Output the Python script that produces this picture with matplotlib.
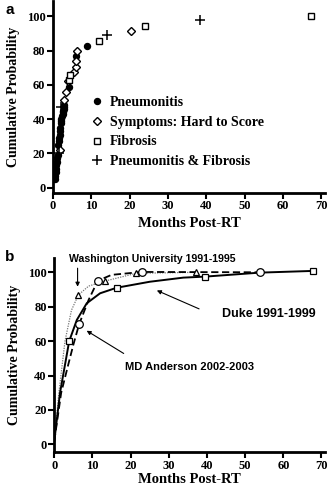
import matplotlib
matplotlib.use('Agg')
import matplotlib.pyplot as plt
from matplotlib.lines import Line2D

SERIF = 'Liberation Serif'
SANS = 'Liberation Sans'

# Panel a: individual toxicity events
pneu_x = [0.5, 0.6, 0.7, 0.8, 0.9, 1.0, 1.1, 1.2, 1.3, 1.5, 1.6, 1.7, 1.8,
          1.9, 2.0, 2.1, 2.2, 2.3, 2.5, 2.6, 2.7, 2.8, 2.9, 3.0, 4.3, 6.1, 8.8]
pneu_y = [5, 7, 9, 11, 13, 15, 17, 19, 25, 27, 29, 31, 33,
          35, 38, 39, 40, 42, 43, 44, 45, 46, 47, 48, 59, 77, 83]
symp_x = [1.7, 2.9, 3.3, 4.0, 5.6, 5.9, 6.1, 6.2, 20.3]
symp_y = [22, 51, 56, 62, 67.5, 70.5, 74, 80, 91.5]
fib_x = [4.3, 4.5, 12.0, 23.9, 67.4]
fib_y = [63, 65.5, 85.7, 94.6, 100]
both_x = [1.5, 2.2, 14.1, 38.3]
both_y = [20, 47, 89, 97.7]

# Panel b: fitted curves
duke_cx = [0, 1.5, 3.9, 5.9, 8.5, 12.0, 16.3, 25.0, 33.8, 39.6, 53.8, 67.8]
duke_cy = [2, 30, 60, 72.3, 82, 87.8, 91, 94.5, 96.9, 97.5, 99.8, 100.8]
duke_mx = [3.9, 16.3, 39.6, 67.8]
duke_my = [60, 91, 97.5, 100.8]

mda_cx = [0, 1.8, 3.5, 5.0, 6.5, 9.0, 11.4, 15.0, 22.9, 53.8]
mda_cy = [2, 30, 45, 58, 69.8, 84, 95.1, 98.5, 100.2, 100]
mda_mx = [6.5, 11.4, 22.9, 53.8]
mda_my = [69.8, 95.1, 100.2, 100]

wu_cx = [0, 1.2, 2.8, 4.5, 6.3, 9.0, 13.3, 21.4, 37.2]
wu_cy = [2, 30, 60, 78, 86.8, 92, 94.9, 99.4, 100]
wu_mx = [6.3, 13.3, 21.4, 37.2]
wu_my = [86.8, 94.9, 99.4, 100]

y_ticks = [0, 20, 40, 60, 80, 100]
x_ticks = [0, 10, 20, 30, 40, 50, 60, 70]


def style_axes(ax, ylim, xpad):
    ax.set_xlim(0, 71)
    ax.set_ylim(*ylim)
    ax.spines['top'].set_visible(False)
    ax.spines['right'].set_visible(False)
    ax.spines['left'].set_linewidth(2)
    ax.spines['bottom'].set_linewidth(2)
    ax.set_xticks(x_ticks)
    ax.set_yticks(y_ticks)
    ax.tick_params(direction='out', length=4, width=1.5, pad=1.5)
    for lab in ax.get_xticklabels() + ax.get_yticklabels():
        lab.set_fontfamily(SERIF)
        lab.set_fontweight('bold')
        lab.set_fontsize(9)
    ax.set_xlabel('Months Post-RT', fontfamily=SERIF, fontweight='bold',
                  fontsize=10.5, labelpad=xpad)
    ax.set_ylabel('Cumulative Probability', fontfamily=SERIF,
                  fontweight='bold', fontsize=10, labelpad=5)


fig = plt.figure(figsize=(3.28, 4.87), dpi=100)
ax1 = fig.add_axes([53 / 328, 1 - 192.7 / 487, 272 / 328, 191.7 / 487])
ax2 = fig.add_axes([54.3 / 328, 1 - 452 / 487, 271 / 328, 194 / 487])

# ---- panel a ----
ax1.plot(pneu_x, pneu_y, 'o', color='black', ms=4.3, ls='none')
ax1.plot(symp_x, symp_y, 'D', mfc='white', mec='black', mew=1, ms=4.5, ls='none')
ax1.plot(fib_x, fib_y, 's', mfc='white', mec='black', mew=1, ms=5, ls='none')
ax1.plot(both_x, both_y, '+', color='black', mew=1.1, ms=7, ls='none')
style_axes(ax1, (-3, 109), 3)

handles = [
    Line2D([], [], marker='o', color='black', ms=4.3, ls='none'),
    Line2D([], [], marker='D', mfc='white', mec='black', mew=1, ms=4.5, ls='none'),
    Line2D([], [], marker='s', mfc='white', mec='black', mew=1, ms=5, ls='none'),
    Line2D([], [], marker='+', color='black', mew=1.1, ms=7, ls='none'),
]
labels = ['Pneumonitis', 'Symptoms: Hard to Score', 'Fibrosis',
          'Pneumonitis & Fibrosis']
ax1.legend(handles, labels, loc='upper left', bbox_to_anchor=(0.11, 0.54),
           frameon=False, handlelength=1.0, handletextpad=0.45,
           labelspacing=0.48, borderpad=0,
           prop={'family': SERIF, 'weight': 'bold', 'size': 10})

# ---- panel b ----
ax2.plot(wu_cx, wu_cy, color='#777777', lw=0.9, ls=(0, (1, 1)))
ax2.plot(mda_cx, mda_cy, color='black', lw=1.3, ls=(0, (4, 2)))
ax2.plot(duke_cx, duke_cy, color='black', lw=1.4)
ax2.plot(wu_mx, wu_my, '^', mfc='white', mec='black', mew=0.9, ms=5, ls='none')
ax2.plot(mda_mx, mda_my, 'o', mfc='white', mec='black', mew=0.9, ms=5.5, ls='none')
ax2.plot(duke_mx, duke_my, 's', mfc='white', mec='black', mew=0.9, ms=4.5, ls='none')
style_axes(ax2, (-4.4, 108.3), 1)

arrow = dict(arrowstyle='-|>', color='black', lw=0.8, mutation_scale=6)
ax2.annotate('', xy=(6.1, 90), xytext=(6.1, 104), arrowprops=arrow,
             annotation_clip=False)
ax2.text(25.6, 108, 'Washington University 1991-1995', ha='center',
         va='center', fontfamily=SANS, fontweight='bold', fontsize=7.6,
         clip_on=False)
ax2.annotate('', xy=(26.2, 90.1), xytext=(38.6, 78.1), arrowprops=arrow)
ax2.text(56.3, 75.5, 'Duke 1991-1999', ha='center', va='center',
         fontfamily=SANS, fontweight='bold', fontsize=9)
ax2.annotate('', xy=(7.85, 66.9), xytext=(18.8, 52), arrowprops=arrow)
ax2.text(35.4, 44.8, 'MD Anderson 2002-2003', ha='center', va='center',
         fontfamily=SANS, fontweight='bold', fontsize=8)

fig.text(10 / 328, 1 - 10 / 487, 'a', fontfamily=SANS, fontweight='bold',
         fontsize=11, ha='center', va='center')
fig.text(10 / 328, 1 - 257 / 487, 'b', fontfamily=SANS, fontweight='bold',
         fontsize=11, ha='center', va='center')

fig.savefig('out.png', dpi=100)
